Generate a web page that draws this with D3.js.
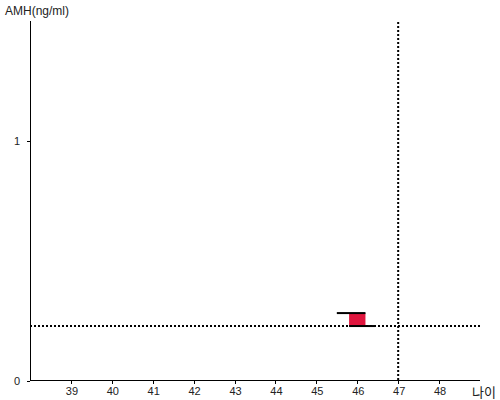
<!DOCTYPE html>
<html>
<head>
<meta charset="utf-8">
<script src="https://cdn.jsdelivr.net/npm/d3@7"></script>
<style>
body { margin: 0; background: #fff; }
text { font-family: "Liberation Sans", Arial, sans-serif; }
</style>
</head>
<body>
<script>
var xTicks = [39, 40, 41, 42, 43, 44, 45, 46, 47, 48];
var yTicks = [0, 1];
var ages = [46];
var amhLow = [0.229];
var amhHigh = [0.283];
var refAge = 47;
var refAmh = 0.229;

var width = 500, height = 400;

var svg = d3.select("body").append("svg").attr("width", width).attr("height", height);

var x = d3.scaleLinear().domain([38, 49]).range([30, 480]);
var y = d3.scaleLinear().domain([0, 1.5]).range([381, 21]);

// axes
svg.append("line").attr("x1", 30.5).attr("x2", 30.5).attr("y1", y(1.5)).attr("y2", 381).attr("stroke", "#000");
svg.append("line").attr("x1", 30).attr("x2", 480).attr("y1", 380.5).attr("y2", 380.5).attr("stroke", "#000");

svg.selectAll(".xt").data(xTicks).enter().append("line")
    .attr("x1", function(d){ return Math.round(x(d)) + 0.5; })
    .attr("x2", function(d){ return Math.round(x(d)) + 0.5; })
    .attr("y1", 381).attr("y2", 384).attr("stroke", "#000");
svg.selectAll(".xl").data(xTicks).enter().append("text")
    .attr("x", function(d){ return x(d) + 1; })
    .attr("y", 395)
    .attr("text-anchor", "middle")
    .attr("font-size", 11)
    .attr("fill", "#222")
    .text(function(d){ return d; });

svg.selectAll(".yt").data(yTicks).enter().append("line")
    .attr("x1", 27).attr("x2", 30)
    .attr("y1", function(d){ return Math.round(y(d)) + 0.5; })
    .attr("y2", function(d){ return Math.round(y(d)) + 0.5; })
    .attr("stroke", "#000");
svg.selectAll(".yl").data(yTicks).enter().append("text")
    .attr("x", 17).attr("y", function(d){ return y(d) + 4; })
    .attr("text-anchor", "middle")
    .attr("font-size", 11)
    .attr("fill", "#222")
    .text(function(d){ return d; });

svg.append("text").attr("x", 5).attr("y", 15).attr("font-size", 12).attr("fill", "#222").text("AMH(ng/ml)");
svg.append("text").attr("x", 472).attr("y", 397).attr("font-size", 13)
    .style("font-family", "'Noto Sans CJK KR', sans-serif").attr("fill", "#222").text("나이");

// reference lines
svg.append("line").attr("x1", 30).attr("x2", 480)
    .attr("y1", y(refAmh)).attr("y2", y(refAmh))
    .attr("stroke", "#000").attr("stroke-width", 2).attr("stroke-dasharray", "2,2");
svg.append("line").attr("x1", x(refAge)).attr("x2", x(refAge))
    .attr("y1", 22).attr("y2", 380)
    .attr("stroke", "#000").attr("stroke-width", 2).attr("stroke-dasharray", "2,2");

// marker
var g = svg.selectAll(".mk").data(ages).enter().append("g");
g.append("rect")
    .attr("x", function(d){ return x(d - 0.2); })
    .attr("y", function(d, i){ return y(amhHigh[i]); })
    .attr("width", function(d){ return x(d + 0.2) - x(d - 0.2); })
    .attr("height", function(d, i){ return y(amhLow[i]) - y(amhHigh[i]); })
    .attr("fill", "#e0163e");
g.append("line")
    .attr("x1", function(d){ return x(d - 0.5); })
    .attr("x2", function(d){ return x(d + 0.2); })
    .attr("y1", function(d, i){ return y(amhHigh[i]); })
    .attr("y2", function(d, i){ return y(amhHigh[i]); })
    .attr("stroke", "#000").attr("stroke-width", 2);
g.append("line")
    .attr("x1", function(d){ return x(d - 0.2); })
    .attr("x2", function(d){ return x(d + 0.45); })
    .attr("y1", function(d, i){ return y(amhLow[i]); })
    .attr("y2", function(d, i){ return y(amhLow[i]); })
    .attr("stroke", "#000").attr("stroke-width", 2);
</script>
</body>
</html>
